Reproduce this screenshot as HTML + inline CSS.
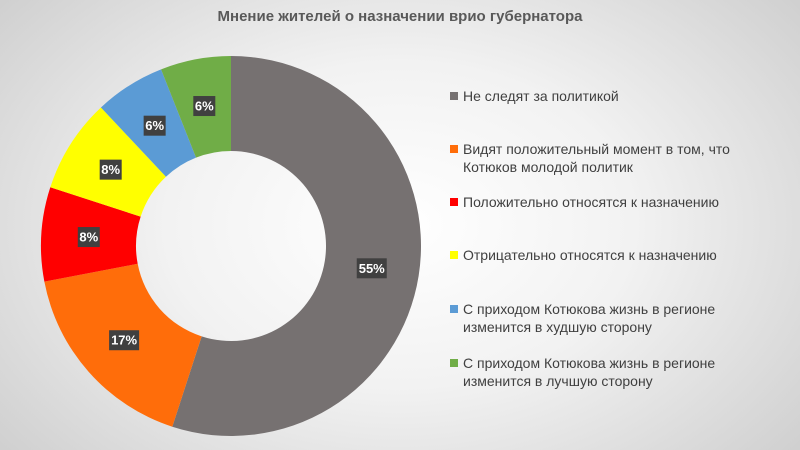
<!DOCTYPE html>
<html><head><meta charset="utf-8">
<style>
body{margin:0;width:800px;height:450px;overflow:hidden;font-family:"Liberation Sans",sans-serif;}
#bg{position:absolute;left:0;top:0;width:800px;height:450px;background:radial-gradient(ellipse 520px 360px at 400px 225px,#ffffff 0%,#f2f2f2 45%,#cfcfcf 100%);}
.t{position:absolute;left:0;top:8px;width:800px;text-align:center;font-weight:bold;font-size:15px;color:#595959;}
.lg{position:absolute;left:450px;font-size:14px;color:#404040;line-height:18px;}
.lg span.sq{position:absolute;left:0;top:5px;width:8px;height:8px;}
.lg div.tx{margin-left:13px;}
</style></head><body>
<div id="bg"></div>
<div class="t">Мнение жителей о назначении врио губернатора</div>
<svg id="chart" width="800" height="450" style="position:absolute;left:0;top:0"></svg>
<div id="legend"></div>
<script>
const categories=["Не следят за политикой","Видят положительный момент в том, что Котюков молодой политик","Положительно относятся к назначению","Отрицательно относятся к назначению","С приходом Котюкова жизнь в регионе изменится в худшую сторону","С приходом Котюкова жизнь в регионе изменится в лучшую сторону"];
const legendLines=[["Не следят за политикой"],["Видят положительный момент в том, что","Котюков молодой политик"],["Положительно относятся к назначению"],["Отрицательно относятся к назначению"],["С приходом Котюкова жизнь в регионе","изменится в худшую сторону"],["С приходом Котюкова жизнь в регионе","изменится в лучшую сторону"]];
const values=[55,17,8,8,6,6];
const labels=["55%","17%","8%","8%","6%","6%"];
const colors=["#767171","#ff6d0a","#ff0000","#ffff00","#5b9bd5","#70ad47"];
const legendTops=[87,140,193,246,300,354];
const NS="http://www.w3.org/2000/svg";
const svg=document.getElementById('chart');
const cx=231,cy=246,R=190,r=95;
const total=values.reduce((a,b)=>a+b,0);
function pt(a,rad){return [cx+rad*Math.sin(a),cy-rad*Math.cos(a)];}
let acc=0;
values.forEach((v,i)=>{
  const a0=acc/total*2*Math.PI; acc+=v; const a1=acc/total*2*Math.PI;
  const lg=(a1-a0)>Math.PI?1:0;
  const p0=pt(a0,R),p1=pt(a1,R),q1=pt(a1,r),q0=pt(a0,r);
  const path=document.createElementNS(NS,'path');
  path.setAttribute('d',`M${p0[0]},${p0[1]}A${R},${R} 0 ${lg} 1 ${p1[0]},${p1[1]}L${q1[0]},${q1[1]}A${r},${r} 0 ${lg} 0 ${q0[0]},${q0[1]}Z`);
  path.setAttribute('fill',colors[i]);
  
  
  svg.appendChild(path);
  const am=(a0+a1)/2, c=pt(am,(R+r)/2);
  const w=labels[i].length*8+6;
  const rect=document.createElementNS(NS,'rect');
  rect.setAttribute('x',c[0]-w/2);rect.setAttribute('y',c[1]-10);
  rect.setAttribute('width',w);rect.setAttribute('height',20);
  rect.setAttribute('fill','#404040');
  
  
  svg.appendChild(rect);
  const t=document.createElementNS(NS,'text');
  t.setAttribute('x',c[0]);t.setAttribute('y',c[1]+4.5);
  t.setAttribute('text-anchor','middle');t.setAttribute('fill','#fff');
  t.setAttribute('font-size','13');t.setAttribute('font-weight','bold');
  t.setAttribute('font-family','Liberation Sans, sans-serif');
  t.textContent=labels[i];
  
  
  svg.appendChild(t);
});
const leg=document.getElementById('legend');
legendLines.forEach((lines,i)=>{
  const d=document.createElement('div');
  d.className='lg';d.style.top=legendTops[i]+'px';
  
  
  const s=document.createElement('span');s.className='sq';s.style.background=colors[i];
  
  
  const tx=document.createElement('div');tx.className='tx';tx.innerHTML=lines.join('<br>');
  
  
  d.appendChild(s);d.appendChild(tx);leg.appendChild(d);
});
</script>
</body></html>
